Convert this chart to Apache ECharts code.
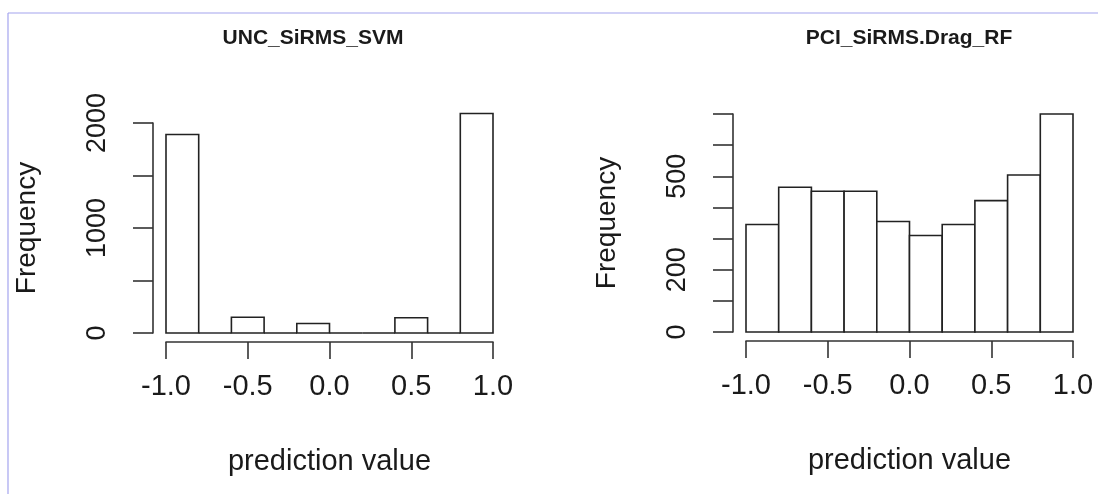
<!DOCTYPE html>
<html>
<head>
<meta charset="utf-8">
<script src="https://cdn.jsdelivr.net/npm/echarts@6/dist/echarts.min.js"></script>
<style>
  html, body { margin: 0; padding: 0; background: #fff; }
  #chart { width: 1098px; height: 494px; }
</style>
</head>
<body>
<div id="chart"></div>
<script>
// Histogram bin edges shared by both panels
const binEdges = [-1.0, -0.8, -0.6, -0.4, -0.2, 0.0, 0.2, 0.4, 0.6, 0.8, 1.0];

// Counts per bin
const uncCounts = [1890, 0, 150, 0, 90, 0, 0, 145, 0, 2090];
const pciCounts = [345, 465, 452, 452, 355, 310, 345, 422, 504, 700];

// Panel titles and axis texts
const panelTitles = ['UNC_SiRMS_SVM', 'PCI_SiRMS.Drag_RF'];
const xAxisTitle = 'prediction value';
const yAxisTitle = 'Frequency';

// Tick labels printed on each y axis
const uncYLabels = [0, 1000, 2000];
const pciYLabels = [0, 200, 500];

function toBins(counts) {
  return counts.map((c, i) => [binEdges[i], binEdges[i + 1], c]);
}

const FONT = '"Liberation Sans", Arial, Helvetica, sans-serif';
const INK = '#1a1a1a';

function renderBin(params, api) {
  const base = api.coord([api.value(0), 0]);
  const top = api.coord([api.value(1), api.value(2)]);
  return {
    type: 'rect',
    shape: { x: base[0], y: top[1], width: top[0] - base[0], height: base[1] - top[1] },
    style: { fill: '#ffffff', stroke: '#222', lineWidth: 1.6 }
  };
}

function xAxisFor(gridIndex) {
  return {
    type: 'value', gridIndex, min: -1, max: 1, interval: 0.5,
    offset: 9,
    name: xAxisTitle, nameLocation: 'middle', nameGap: 105,
    nameTextStyle: { fontFamily: FONT, fontSize: 29, color: INK },
    axisLine: { show: true, onZero: false, lineStyle: { color: '#333', width: 1.6 } },
    axisTick: { show: true, length: 17, lineStyle: { color: '#333', width: 1.6 } },
    axisLabel: {
      margin: 30, fontFamily: FONT, fontSize: 29, color: INK,
      formatter: v => v.toFixed(1)
    },
    splitLine: { show: false }
  };
}

function yAxisFor(gridIndex, max, interval, shown) {
  return {
    type: 'value', gridIndex, min: 0, max, interval,
    offset: 13,
    name: yAxisTitle, nameLocation: 'middle', nameRotate: 90, nameGap: 112,
    nameTextStyle: { fontFamily: FONT, fontSize: 28, color: INK },
    axisLine: { show: true, onZero: false, lineStyle: { color: '#333', width: 1.6 } },
    axisTick: { show: true, length: 20, lineStyle: { color: '#333', width: 1.6 } },
    axisLabel: {
      rotate: 90, margin: 42, fontFamily: FONT, fontSize: 27, color: INK,
      formatter: v => (shown.indexOf(v) >= 0 ? String(v) : '')
    },
    splitLine: { show: false }
  };
}

const chart = echarts.init(document.getElementById('chart'), null, { renderer: 'canvas' });

chart.setOption({
  backgroundColor: '#ffffff',
  animation: false,
  title: [
    { text: panelTitles[0], left: 308, top: 23, textAlign: 'center',
      textStyle: { fontFamily: FONT, fontSize: 21, fontWeight: 'bold', color: INK } },
    { text: panelTitles[1], left: 904, top: 23, textAlign: 'center',
      textStyle: { fontFamily: FONT, fontSize: 21, fontWeight: 'bold', color: INK } }
  ],
  grid: [
    { left: 166, right: 605, top: 123, bottom: 161, containLabel: false },
    { left: 746, right: 25, top: 114, bottom: 162, containLabel: false }
  ],
  xAxis: [xAxisFor(0), xAxisFor(1)],
  yAxis: [yAxisFor(0, 2000, 500, uncYLabels), yAxisFor(1, 700, 100, pciYLabels)],
  series: [
    { type: 'custom', xAxisIndex: 0, yAxisIndex: 0, clip: false,
      renderItem: renderBin, encode: { x: [0, 1], y: 2 }, data: toBins(uncCounts) },
    { type: 'custom', xAxisIndex: 1, yAxisIndex: 1, clip: false,
      renderItem: renderBin, encode: { x: [0, 1], y: 2 }, data: toBins(pciCounts) }
  ],
  graphic: [
    // thin frame along the top and left edges
    { type: 'line', shape: { x1: 8, y1: 13, x2: 1098, y2: 13 },
      style: { stroke: '#a4a4ee', lineWidth: 1.2 }, silent: true },
    { type: 'line', shape: { x1: 8, y1: 13, x2: 8, y2: 494 },
      style: { stroke: '#a4a4ee', lineWidth: 1.2 }, silent: true }
  ]
});
</script>
</body>
</html>
